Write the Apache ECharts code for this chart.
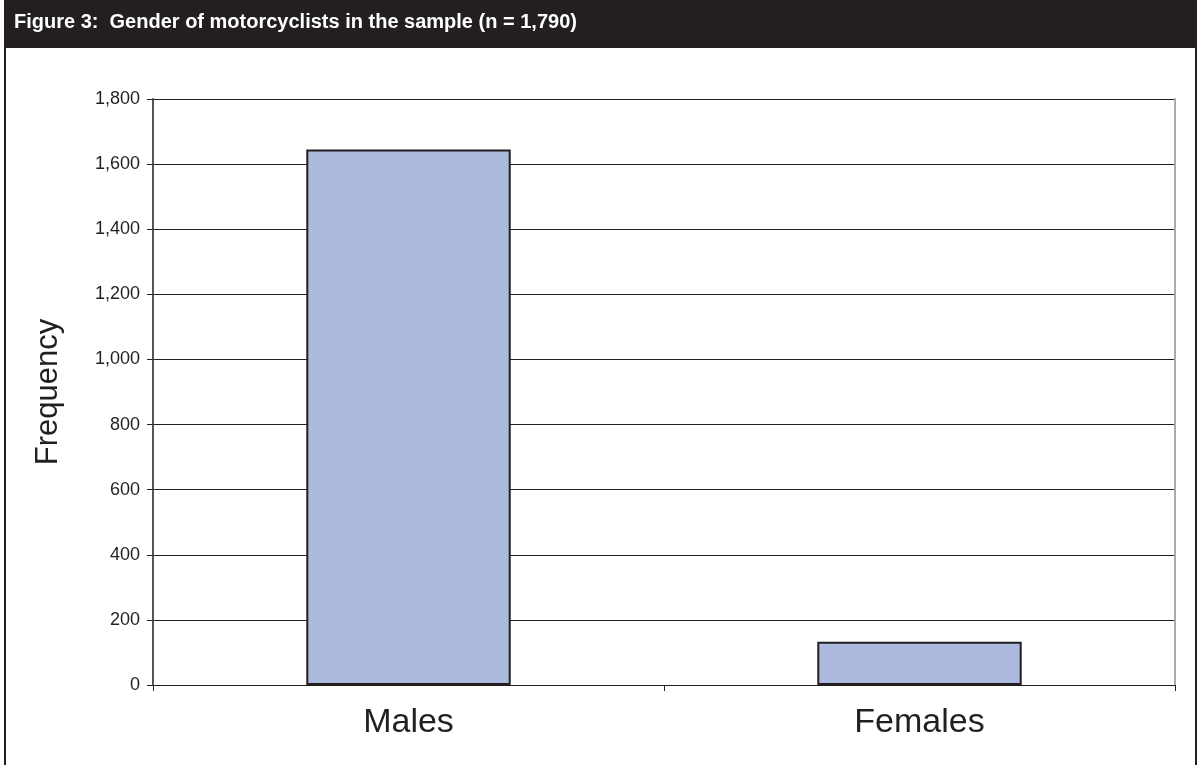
<!DOCTYPE html>
<html>
<head>
<meta charset="utf-8">
<script src="https://cdn.jsdelivr.net/npm/echarts@6/dist/echarts.min.js"></script>
<style>
html,body{margin:0;padding:0;background:#fff;}
#chart{width:1202px;height:765px;}
</style>
</head>
<body>
<div id="chart"></div>
<script>
const titleText = 'Figure 3:  Gender of motorcyclists in the sample (n = 1,790)';
const categories = ['Males', 'Females'];
const frequencies = [1645, 133];
const yTicks = [0, 200, 400, 600, 800, 1000, 1200, 1400, 1600, 1800];

const chart = echarts.init(document.getElementById('chart'));
chart.setOption({
  animation: false,
  backgroundColor: '#fff',
  graphic: [
    { type: 'rect', shape: { x: 5, y: 1, width: 1191, height: 800 }, style: { fill: 'none', stroke: '#231f20', lineWidth: 2 }, z: 1 },
    { type: 'rect', shape: { x: 5, y: 0, width: 1192, height: 48 }, style: { fill: '#231f20' }, z: 2 },
    { type: 'text', left: 14, top: 12, style: { text: titleText, fill: '#fff', font: 'bold 20px "Liberation Sans", Arial, sans-serif' }, z: 3 }
  ],
  grid: { left: 153, right: 27, top: 99, bottom: 80 },
  xAxis: {
    type: 'category',
    data: categories,
    boundaryGap: true,
    axisLine: { lineStyle: { color: '#231f20', width: 1 } },
    axisTick: { show: true, length: 6, lineStyle: { color: '#231f20' } },
    axisLabel: { color: '#231f20', fontSize: 34, fontFamily: '"Liberation Sans", Arial, sans-serif', margin: 21 }
  },
  yAxis: [{
    type: 'value',
    min: 0, max: 1800, interval: 200,
    name: 'Frequency',
    nameLocation: 'middle',
    nameGap: 89,
    nameTextStyle: { color: '#231f20', fontSize: 31, fontFamily: '"Liberation Sans", Arial, sans-serif' },
    axisLine: { show: true, lineStyle: { color: '#555', width: 2 } },
    axisTick: { show: true, length: 6, lineStyle: { color: '#231f20' } },
    axisLabel: {
      color: '#231f20', fontSize: 18, fontFamily: '"Liberation Sans", Arial, sans-serif', margin: 13,
      formatter: v => v.toLocaleString('en-US')
    },
    splitLine: { show: true, lineStyle: { color: '#231f20', width: 1 } }
  }, {
    type: 'value',
    min: 0, max: 1800, interval: 200,
    position: 'right',
    axisLine: { show: true, lineStyle: { color: '#aaa', width: 2 } },
    axisTick: { show: false },
    axisLabel: { show: false },
    splitLine: { show: false }
  }],
  series: [{
    type: 'bar',
    data: frequencies,
    barWidth: '40%',
    itemStyle: { color: '#abbadd', borderColor: '#231f20', borderWidth: 2 }
  }]
});
</script>
</body>
</html>
